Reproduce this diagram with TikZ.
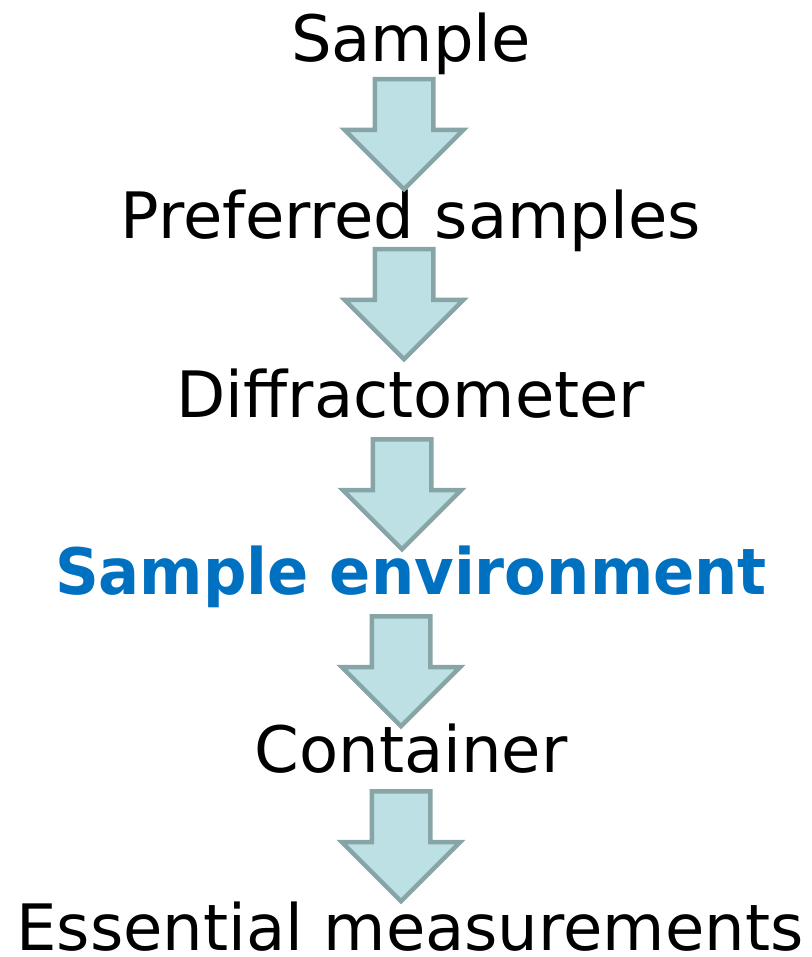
\documentclass[tikz,border=0pt]{standalone}
\usepackage{fontspec}
\setmainfont[BoldFeatures={FakeStretch=0.95}]{DejaVu Sans}
\usetikzlibrary{shapes.arrows}
\definecolor{arrowfill}{RGB}{189,224,228}
\definecolor{arrowline}{RGB}{135,165,167}
\definecolor{hiblue}{RGB}{0,112,192}

\begin{document}
\begin{tikzpicture}[x=1pt, y=-1pt,
  rowtext/.style={anchor=base, inner sep=0pt, font=\fontsize{64}{70}\selectfont},
  flowarrow/.style={single arrow, shape border rotate=270, draw=arrowline,
    fill=arrowfill, line width=4.5pt, minimum height=110pt, minimum width=114pt,
    single arrow head extend=30pt, inner sep=27pt, anchor=tail}]
% canvas in px: 811 x 957, y grows downward
\useasboundingbox (0,0) rectangle (811,957);

% ---- text rows ----
\node[rowtext] (sample) at (411,62) {Sample};
\node[rowtext] (pref)   at (411,239) {Preferred samples};
\node[rowtext] (diff)   at (411,417) {Diffractometer};
\node[rowtext, text=hiblue, font=\fontsize{64}{70}\selectfont\bfseries] (env) at (411,594) {Sample environment};
\node[rowtext] (cont)   at (411,772) {Container};
\node[rowtext] (meas)   at (410,950) {Essential measurements};

% ---- block arrows between rows ----
\node[flowarrow] (a1) at (404,77) {};
\node[flowarrow] (a2) at (404,247) {};
\node[flowarrow] (a3) at (402,437) {};
\node[flowarrow] (a4) at (401,614) {};
\node[flowarrow] (a5) at (401,789) {};
\end{tikzpicture}
\end{document}
